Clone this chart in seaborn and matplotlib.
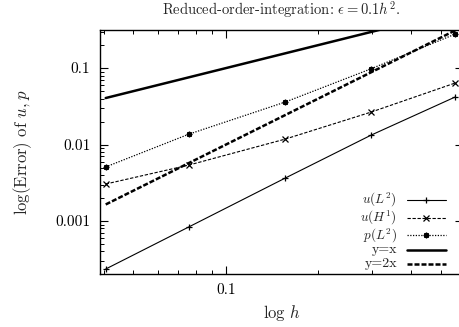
import matplotlib
matplotlib.use("Agg")
import matplotlib.pyplot as plt
from matplotlib.ticker import FuncFormatter, NullFormatter, LogLocator
from matplotlib.lines import Line2D
import numpy as np
import pandas as pd
import seaborn as sns

# mesh sizes and measured errors
h = [0.0406, 0.0758, 0.156, 0.297, 0.557]
err_u_L2 = [0.000236, 0.00084, 0.00365, 0.0133, 0.0418]
err_u_H1 = [0.00305, 0.0054, 0.0118, 0.0266, 0.0637]
err_p_L2 = [0.0051, 0.0137, 0.036, 0.098, 0.278]

labels = [r"$u(L^2)$", r"$u(H^1)$", r"$p(L^2)$", "y=x", "y=2x"]

sns.set_theme(style="ticks")
plt.rcParams["font.family"] = ["cmr10", "DejaVu Serif"]
plt.rcParams["mathtext.fontset"] = "cm"
plt.rcParams["axes.formatter.use_mathtext"] = True
plt.rcParams["font.size"] = 10.5

fig = plt.figure(figsize=(4.6, 3.27), dpi=100)
ax = fig.add_axes([0.2174, 0.162, 0.789, 0.746])

h_arr = np.array(h)
ref_x = h_arr          # slope-1 reference
ref_2x = h_arr ** 2    # slope-2 reference

styles = [
    dict(y=err_u_L2, ls="-", lw=0.8, marker="+", ms=5, mew=0.9),
    dict(y=err_u_H1, ls=(0, (3, 1.5)), lw=0.8, marker="x", ms=4, mew=0.9),
    dict(y=err_p_L2, ls=(0, (1, 1.2)), lw=0.9, marker=(8, 2, 0), ms=4, mew=1.0),
    dict(y=list(ref_x), ls="-", lw=1.8, marker=None, ms=0, mew=0),
    dict(y=list(ref_2x), ls=(0, (2, 0.8)), lw=1.8, marker=None, ms=0, mew=0),
]

for st in styles:
    sns.lineplot(x=h, y=st["y"], ax=ax, color="black", linestyle=st["ls"],
                 linewidth=st["lw"], marker=st["marker"], markersize=st["ms"],
                 markeredgewidth=st["mew"], markeredgecolor="black",
                 estimator=None, sort=False)

ax.set_xscale("log")
ax.set_yscale("log")
ax.set_xlim(0.0389, 0.591)
ax.set_ylim(0.000203, 0.314)

fmt = FuncFormatter(lambda v, _: f"{v:g}")
ax.xaxis.set_major_formatter(fmt)
ax.yaxis.set_major_formatter(fmt)
ax.xaxis.set_minor_formatter(NullFormatter())
ax.yaxis.set_minor_formatter(NullFormatter())
ax.xaxis.set_minor_locator(LogLocator(base=10, subs=np.arange(2, 10)))
ax.yaxis.set_minor_locator(LogLocator(base=10, subs=np.arange(2, 10)))

ax.tick_params(which="both", direction="in", top=True, right=True,
               colors="black", labelsize=11)
ax.tick_params(which="major", length=6, width=0.8, pad=7)
ax.tick_params(which="minor", length=3, width=0.7)
for sp in ax.spines.values():
    sp.set_color("black")
    sp.set_linewidth(1.0)

ax.set_xlabel(r"$\log\,h$", labelpad=4)
ax.set_ylabel(r"$\log(\mathrm{Error})$ of $u, p$", labelpad=15)
fig.text(0.611, 0.972, r"Reduced-order-integration: $\epsilon = 0.1h^2$.",
         ha="center", va="center", fontsize=10.5)

# key in the lower right corner: label text right-aligned before each sample
rows_y = [0.302, 0.230, 0.158, 0.099, 0.040]
label_sizes = [9.5, 9.5, 9.5, 10, 10]
x_text, x0, x1 = 0.818, 0.846, 0.953
for st, lab, yy, fs in zip(styles, labels, rows_y, label_sizes):
    ax.text(x_text, yy, lab, transform=ax.transAxes, ha="right", va="center",
            fontsize=fs)
    ax.add_line(Line2D([x0, x1], [yy, yy], transform=ax.transAxes,
                       color="black", linestyle=st["ls"], linewidth=st["lw"]))
    if st["marker"] is not None:
        ax.add_line(Line2D([(x0 + x1) / 2], [yy], transform=ax.transAxes,
                           color="black", marker=st["marker"],
                           markersize=st["ms"], markeredgewidth=st["mew"],
                           linestyle="none"))

fig.savefig("out.png", dpi=100)
